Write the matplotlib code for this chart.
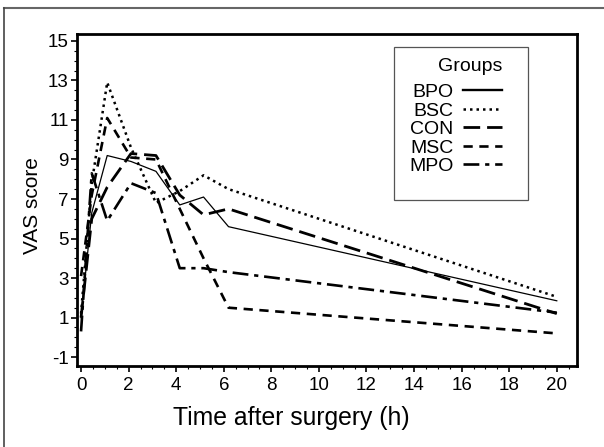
import matplotlib
matplotlib.use("Agg")
import matplotlib.pyplot as plt
from matplotlib.lines import Line2D
from matplotlib.patches import Rectangle
from matplotlib.ticker import MultipleLocator

plt.rcParams['font.family'] = ['Liberation Sans', 'DejaVu Sans']
plt.rcParams['axes.unicode_minus'] = False

times = [0, 0.45, 1.1, 2.1, 3.15, 4.15, 5.15, 6.2, 20]
BPO = [1.0, 6.3, 9.2, 8.9, 8.4, 6.7, 7.1, 5.6, 1.85]
BSC = [1.2, 7.8, 12.9, 9.6, 6.8, 7.4, 8.2, 7.5, 2.05]
CON = [1.0, 6.0, 7.6, 9.3, 9.2, 7.2, 6.2, 6.5, 1.2]
MSC = [3.1, 7.2, 11.1, 9.1, 9.0, 6.5, 4.0, 1.5, 0.2]
MPO = [0.3, 8.3, 5.9, 7.8, 7.3, 3.5, 3.5, 3.3, 1.25]

groups = ["BPO", "BSC", "CON", "MSC", "MPO"]
series = [BPO, BSC, CON, MSC, MPO]
styles = [
    dict(linestyle='-', linewidth=0.9),
    dict(linestyle=(0, (1, 1.6)), linewidth=1.8),
    dict(linestyle=(0, (6, 2.5)), linewidth=2.0),
    dict(linestyle=(0, (3.5, 2.5)), linewidth=1.9),
    dict(linestyle=(0, (6, 2.2, 1.6, 2.2)), linewidth=1.9),
]

W, H = 604, 447
fig = plt.figure(figsize=(W/100, H/100), dpi=100)
AX_L, AX_R, AX_T, AX_B = 77, 577, 34, 366
ax = fig.add_axes([AX_L/W, 1-AX_B/H, (AX_R-AX_L)/W, (AX_B-AX_T)/H])

def axc(px, py):
    return ((px-AX_L)/(AX_R-AX_L), (AX_B-py)/(AX_B-AX_T))

for name, vals, st in zip(groups, series, styles):
    ax.plot(times, vals, color='black', label=name, **st)

ax.set_xlim(-0.17, 20.85)
ax.set_ylim(-1.45, 15.35)
ax.xaxis.set_major_locator(MultipleLocator(2))
ax.xaxis.set_minor_locator(MultipleLocator(0.5))
ax.set_yticks(list(range(-1, 16, 2)))
ax.yaxis.set_minor_locator(MultipleLocator(0.5))
ax.tick_params(which='major', direction='out', length=4, width=1.2, labelsize=13.5, pad=2)
ax.tick_params(axis='x', which='major', pad=4)
ax.tick_params(which='minor', direction='out', length=2, width=0.8)
for s in ax.spines.values():
    s.set_linewidth(2)

ax.set_xlabel("Time after surgery (h)", fontsize=17.8)
ax.xaxis.set_label_coords(*axc(291, 418))
ax.xaxis.label.set_va('center')
ax.set_ylabel("VAS score", fontsize=15)
ax.yaxis.set_label_coords(*axc(32.5, 206))
ax.yaxis.label.set_va('center')

# legend frame
x0, y0 = axc(394, 200)
x1, y1 = axc(528, 47)
ax.add_patch(Rectangle((x0, y0), x1-x0, y1-y0, transform=ax.transAxes,
                       facecolor='white', edgecolor='#555555', linewidth=0.9, zorder=4))
leg = ax.legend(title="Groups", loc='upper right', bbox_to_anchor=axc(502, 58),
                markerfirst=False, frameon=False, fontsize=14,
                title_fontsize=14, handlelength=2.0, labelspacing=0.05,
                borderpad=0, handletextpad=0.5, borderaxespad=0)
leg._legend_box.align = "right"
leg._legend_box.sep = 6
leg.set_zorder(5)
for h in leg.legend_handles:
    h.set_linewidth(max(h.get_linewidth(), 1.7))

fig.add_artist(Line2D([4/W, 1.0], [1-8/H, 1-8/H], color='#666666', linewidth=1.5, transform=fig.transFigure))
fig.add_artist(Line2D([4/W, 4/W], [0.0, 1-8/H], color='#444444', linewidth=1.2, transform=fig.transFigure))

fig.savefig("out.png", dpi=100)
